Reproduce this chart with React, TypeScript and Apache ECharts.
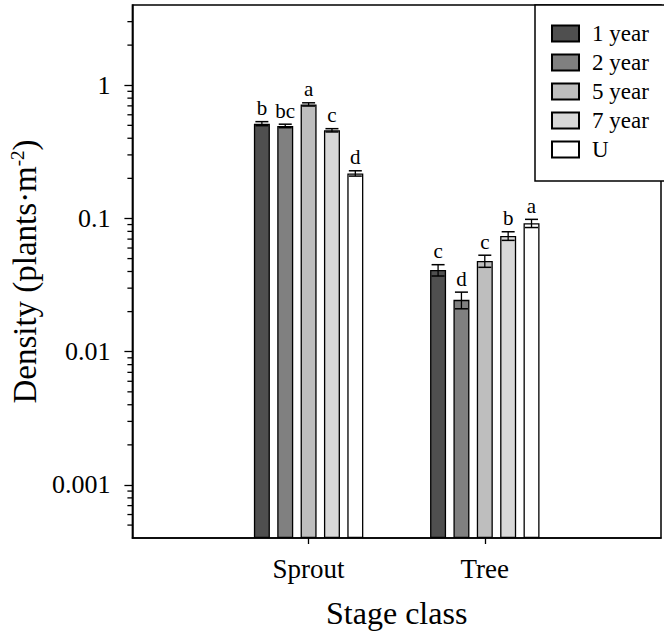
import React, { useEffect, useRef } from "react";
import * as echarts from "echarts";

const categories = ["Sprout", "Tree"];
const seriesNames = ["1 year", "2 year", "5 year", "7 year", "U"];
const sproutValues = [0.515, 0.495, 0.718, 0.459, 0.218];
const sproutErrors = [0.018, 0.015, 0.02, 0.013, 0.01];
const treeValues = [0.041, 0.0245, 0.048, 0.074, 0.092];
const treeErrors = [0.004, 0.0035, 0.005, 0.0055, 0.0065];
const sproutLetters = ["b", "bc", "a", "c", "d"];
const treeLetters = ["c", "d", "c", "b", "a"];
const majorTickLabels = [0.001, 0.01, 0.1, 1];
const yMin = 0.0004;
const yMax = 4;
const minorMultipliers = [2, 3, 4, 5, 6, 7, 8, 9];
const decades = [0.0001, 0.001, 0.01, 0.1, 1];

const colors = ["#4f4f4f", "#808080", "#bebebe", "#d8d8d8", "#ffffff"];
const FONT = "'Liberation Serif', 'Times New Roman', serif";
const BAR_W = 16;
const BAR_GAP_PCT = 46;

export default function App() {
  const ref = useRef<HTMLDivElement>(null);
  useEffect(() => {
    if (!ref.current) return;
    const chart = echarts.init(ref.current, null, { renderer: "svg" });
    const axisCats = ["", ...categories, ""];

    const minorTicks: number[] = [];
    decades.forEach((d) =>
      minorMultipliers.forEach((m) => {
        const v = d * m;
        if (v > yMin * 1.0001 && v < yMax * 0.9999) minorTicks.push(v);
      })
    );

    const errData: any[] = [];
    seriesNames.forEach((_, i) => {
      errData.push([1, i, sproutValues[i], sproutErrors[i], sproutLetters[i]]);
      errData.push([2, i, treeValues[i], treeErrors[i], treeLetters[i]]);
    });

    const pitch = BAR_W * (1 + BAR_GAP_PCT / 100);

    const barSeries = seriesNames.map((name, i) => ({
      name,
      type: "bar",
      barWidth: BAR_W,
      barGap: BAR_GAP_PCT + "%",
      data: [null, sproutValues[i], treeValues[i], null],
      itemStyle: { color: colors[i], borderColor: "#000", borderWidth: 1.3 },
      z: 2,
    }));

    const option: any = {
      animation: false,
      backgroundColor: "#fff",
      textStyle: { fontFamily: FONT },
      grid: {
        left: 132,
        top: 5,
        right: -7,
        bottom: 94,
        show: true,
        borderColor: "#000",
        borderWidth: 1.5,
      },
      legend: {
        orient: "vertical",
        left: 535,
        top: 5,
        padding: [17, 60, 20, 16],
        itemWidth: 27,
        itemHeight: 16,
        itemGap: 6,
        icon: "rect",
        borderColor: "#000",
        borderWidth: 1.5,
        backgroundColor: "#fff",
        data: seriesNames,
        textStyle: {
          fontSize: 23,
          fontFamily: FONT,
          color: "#000",
          padding: [0, 0, 0, 8],
        },
      },
      xAxis: {
        type: "category",
        data: axisCats,
        boundaryGap: false,
        name: "Stage class",
        nameLocation: "middle",
        nameGap: 59,
        nameTextStyle: { fontSize: 32, fontFamily: FONT, color: "#000" },
        axisLine: { lineStyle: { color: "#000", width: 1.5 } },
        axisTick: {
          show: true,
          length: 6,
          interval: (idx: number) => idx === 1 || idx === 2,
          lineStyle: { color: "#000", width: 1.3 },
        },
        axisLabel: {
          interval: 0,
          fontSize: 27,
          fontFamily: FONT,
          color: "#000",
          margin: 17,
        },
        splitLine: { show: false },
      },
      yAxis: {
        type: "log",
        logBase: 10,
        min: yMin,
        max: yMax,
        startValue: yMin,
        name: "Density (plants·m{sup|-2})",
        nameLocation: "middle",
        nameGap: 86,
        nameTextStyle: {
          fontSize: 33,
          fontFamily: FONT,
          color: "#000",
          rich: {
            sup: { fontSize: 19, fontFamily: FONT, color: "#000", verticalAlign: "top", lineHeight: 33 },
          },
        },
        axisLine: { show: true, lineStyle: { color: "#000", width: 1.5 } },
        axisTick: { show: true, length: 8, lineStyle: { color: "#000", width: 1.3 } },
        axisLabel: {
          fontSize: 26,
          fontFamily: FONT,
          color: "#000",
          margin: 22,
          showMinLabel: false,
          showMaxLabel: false,
          formatter: (v: number) => {
            const hit = majorTickLabels.find((t) => Math.abs(Math.log10(v) - Math.log10(t)) < 1e-6);
            return hit === undefined ? "" : String(hit);
          },
        },
        splitLine: { show: false },
        minorTick: { show: false },
      },
      series: [
        ...barSeries,
        {
          type: "custom",
          name: "minorTicks",
          clip: false,
          silent: true,
          data: minorTicks.map((v) => [0, v]),
          encode: { x: 0, y: 1 },
          renderItem: (params: any, api: any) => {
            const pt = api.coord([0, api.value(1)]);
            const x0 = params.coordSys.x;
            return {
              type: "line",
              shape: { x1: x0 - 5, y1: pt[1], x2: x0, y2: pt[1] },
              style: { stroke: "#000", lineWidth: 1.3 },
            };
          },
          z: 5,
        },
        {
          type: "custom",
          name: "errors",
          clip: false,
          silent: true,
          data: errData,
          encode: { x: 0, y: 2 },
          renderItem: (params: any, api: any) => {
            const cat = api.value(0);
            const si = api.value(1);
            const v = api.value(2);
            const e = api.value(3);
            const letter = errData[params.dataIndex][4];
            const c = api.coord([cat, v]);
            const up = api.coord([cat, v + e]);
            const lo = api.coord([cat, v - e]);
            const x = c[0] + (si - 2) * pitch;
            const hw = 6.5;
            return {
              type: "group",
              children: [
                { type: "line", shape: { x1: x, y1: up[1], x2: x, y2: lo[1] }, style: { stroke: "#000", lineWidth: 1.3 } },
                { type: "line", shape: { x1: x - hw, y1: up[1], x2: x + hw, y2: up[1] }, style: { stroke: "#000", lineWidth: 1.5 } },
                { type: "line", shape: { x1: x - hw, y1: lo[1], x2: x + hw, y2: lo[1] }, style: { stroke: "#000", lineWidth: 1.5 } },
                {
                  type: "text",
                  x,
                  y: up[1] - 3,
                  style: {
                    text: letter,
                    fill: "#000",
                    font: "21px " + FONT,
                    textAlign: "center",
                    textVerticalAlign: "bottom",
                  },
                },
              ],
            };
          },
          z: 6,
        },
      ],
    };
    chart.setOption(option);
    return () => chart.dispose();
  }, []);
  return (
    <div
      ref={ref}
      style={{ position: "fixed", left: 0, top: 0, width: 664, height: 634, background: "#fff" }}
    />
  );
}
